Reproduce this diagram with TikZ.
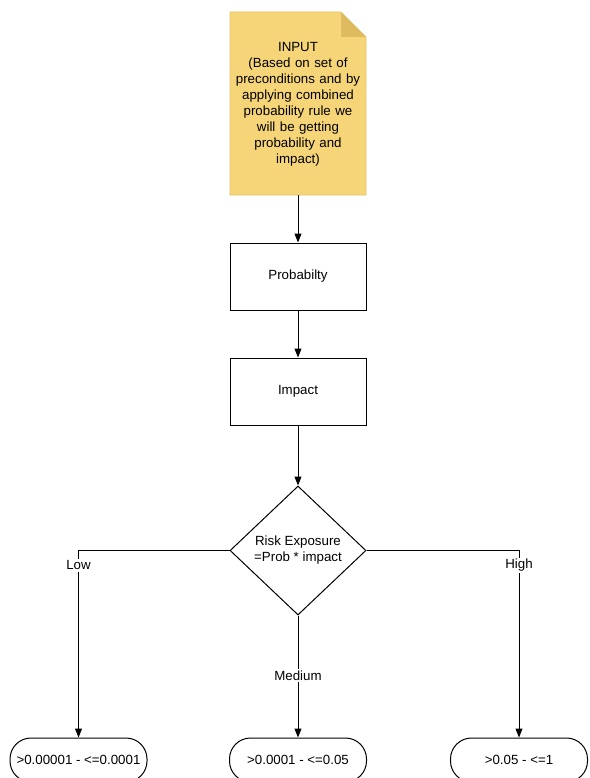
\documentclass[tikz,border=0pt]{standalone}
\usepackage{fontspec}
\setmainfont{Liberation Sans}
\usetikzlibrary{arrows.meta,shapes.geometric}
\definecolor{docfill}{HTML}{F6D578}
\definecolor{docfold}{HTML}{DDBB5E}
\definecolor{docedge}{HTML}{E8C565}
\begin{document}
\begin{tikzpicture}[x=1pt,y=1pt,
  every node/.style={font=\fontsize{13.3}{16}\selectfont},
  boxnode/.style={draw=black,line width=1pt,minimum width=136pt,minimum height=67pt,inner sep=0pt,fill=white},
  termnode/.style={draw=black,line width=1pt,minimum width=137pt,minimum height=44pt,rounded corners=21pt,inner sep=0pt,fill=white},
  decnode/.style={draw=black,line width=1pt,diamond,minimum width=136pt,minimum height=129pt,inner sep=0pt,fill=white,align=center},
  conn/.style={line width=1pt,-{Triangle[length=9pt,width=7pt]}},
  lbl/.style={fill=white,inner sep=1.5pt}
]
\useasboundingbox (0,0) rectangle (589,-778);
\fill[white] (0,0) rectangle (589,-778);
% document shape
\fill[docfill,draw=docedge,line width=0.6pt] (230,-12) -- (341,-12) -- (366,-37) -- (366,-195) -- (230,-195) -- cycle;
\fill[docfold] (341,-12) -- (366,-37) -- (341,-37) -- cycle;
\node[align=center,text width=134pt] (input) at (298,-104) {INPUT\\(Based on set of\\preconditions and by\\applying combined\\probability rule we\\will be getting\\probability and\\impact)};
\coordinate (docbot) at (298,-195);
\node[boxnode] (prob) at (298,-276.5) {Probabilty};
\node[boxnode] (imp) at (298,-391.5) {Impact};
\node[decnode] (risk) at (298,-550.5) {Risk Exposure\\=Prob * impact};
\node[termnode] (low) at (78.5,-760) {>0.00001 - <=0.0001};
\node[termnode] (med) at (298,-760) {>0.0001 - <=0.05};
\node[termnode] (high) at (519,-760) {>0.05 - <=1};
\draw[conn] (docbot) -- (prob.north);
\draw[conn] (prob.south) -- (imp.north);
\draw[conn] (imp.south) -- (risk.north);
\draw[conn] (risk.west) -| (low.north) node[pos=0.54,lbl] {Low};
\draw[conn] (risk.east) -| (high.north) node[pos=0.54,lbl] {High};
\draw[conn] (risk.south) -- (med.north) node[pos=0.49,lbl] {Medium};
\end{tikzpicture}
\end{document}
